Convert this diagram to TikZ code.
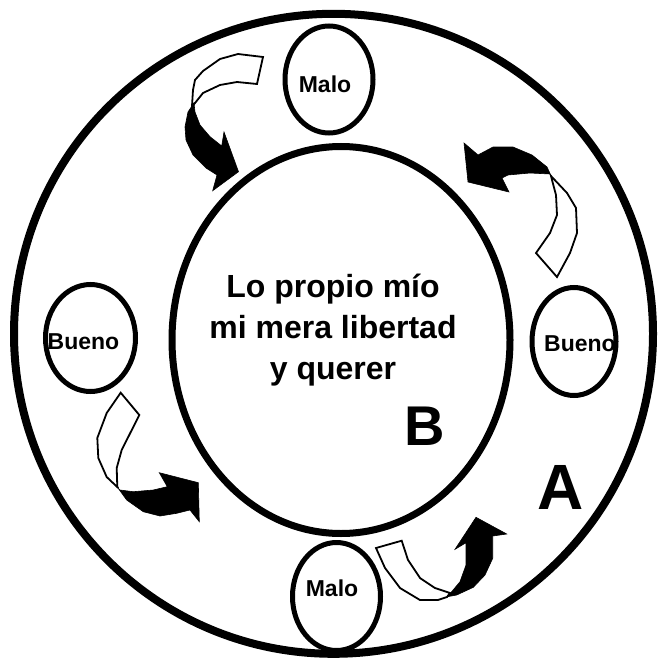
\documentclass[tikz,border=0pt]{standalone}
\usepackage{fontspec}
\setmainfont{Liberation Sans}
\usetikzlibrary{shapes.geometric}
\begin{document}
\begin{tikzpicture}[x=1pt,y=-1pt,
  ring/.style={draw, ellipse, inner sep=0pt},
  bigring/.style={ring, line width=8pt},
  midring/.style={ring, line width=7pt},
  smallring/.style={ring, line width=5pt, minimum width=88pt, minimum height=107pt},
  tailband/.style={draw=black, fill=white, line width=1.8pt, line join=miter},
  headfill/.style={fill=black, draw=black, line width=0.6pt, line join=miter},
  lbl/.style={font=\fontsize{23}{27}\selectfont\bfseries, inner sep=0pt},
  maintext/.style={font=\fontsize{32}{41}\selectfont\bfseries, align=center, inner sep=0pt},
]
\useasboundingbox (0,0) rectangle (657,658);
\fill[white] (0,0) rectangle (657,658);

% rings
\node[bigring, minimum width=639pt, minimum height=640pt] (outer) at (333.5,333.8) {};
\node[midring, minimum width=338pt, minimum height=387pt] (inner) at (341,340) {};

% small ellipses
\node[smallring] (maloTop) at (329,79.5) {};
\node[smallring, minimum width=84pt, minimum height=108pt] (buenoRight) at (574,341.5) {};
\node[smallring, minimum width=90pt, minimum height=107pt] (buenoLeft) at (90.5,338) {};
\node[smallring, minimum height=108pt] (maloBottom) at (336.5,596.5) {};

% labels
\node[lbl] (tMaloTop) at (325,84) {Malo};
\node[lbl] (tBuenoRight) at (580,343.5) {Bueno};
\node[lbl] (tBuenoLeft) at (83.5,341.5) {Bueno};
\node[lbl] (tMaloBottom) at (332,588.5) {Malo};

\node[maintext] (center) at (333,330) {Lo propio mío\\mi mera libertad\\y querer};
\node[font=\fontsize{56}{60}\selectfont\bfseries, inner sep=0pt] (B) at (424.5,426) {B};
\node[font=\fontsize{64}{68}\selectfont\bfseries, inner sep=0pt] (A) at (560.5,487) {A};

% arrow 1 (top left)
\draw[tailband] (263,57) -- (257,84) -- (237,82) -- (220,85) -- (203,93) -- (195,103)
  -- (192,106) -- (193,90) -- (195,80) -- (203,71) -- (220,59) -- (238,54) -- cycle;
\filldraw[headfill] (194,103) -- (188,112) -- (185,127) -- (186,140) -- (193,155)
  -- (206,168) -- (217,175) -- (212.7,190.7) -- (238.5,171.7) -- (224,132)
  -- (221.7,146) -- (210,136.7) -- (200,125) -- (195,112) -- cycle;

% arrow 2 (right)
\draw[tailband] (551,176) -- (567,193) -- (576,208) -- (577,233) -- (570,253)
  -- (557,277) -- (536,253) -- (550,233) -- (557,215) -- (556,195) -- (552,180) -- cycle;
\filldraw[headfill] (553,180) -- (547,167) -- (532,155) -- (513,147) -- (493,147)
  -- (478,155) -- (464,143) -- (468,182) -- (509,192) -- (502,178) -- (508,175)
  -- (530,173) -- (550,174) -- cycle;

% arrow 3 (left)
\draw[tailband] (120.7,392.7) -- (139.3,415) -- (121.7,450) -- (116.7,468) -- (117.3,487)
  -- (118.3,488) -- (106.7,477) -- (98.3,458) -- (97.3,438) -- (106.7,413) -- cycle;
\filldraw[headfill] (118,488) -- (126.7,500) -- (143.3,511.7) -- (160,516) -- (176.7,513.3)
  -- (190,510) -- (199.3,521.7) -- (198.3,482.7) -- (159.3,472.7) -- (167.3,486.7)
  -- (153.3,490) -- (133.3,491.7) -- (120,490) -- cycle;

% arrow 4 (bottom)
\draw[tailband] (376,548) -- (401.7,540.7) -- (408,560) -- (420,578) -- (435,588)
  -- (450,593) -- (447,597) -- (438,600) -- (420,600) -- (400,588) -- (385,568) -- cycle;
\filldraw[headfill] (447.3,596.7) -- (456.7,595) -- (473.3,587.3) -- (485,575)
  -- (492.7,558.3) -- (492.7,536) -- (506.7,534) -- (476,517.3) -- (455,549.3)
  -- (466,542.7) -- (466,565) -- (460,581.7) -- (451.7,591.7) -- cycle;
\end{tikzpicture}
\end{document}
